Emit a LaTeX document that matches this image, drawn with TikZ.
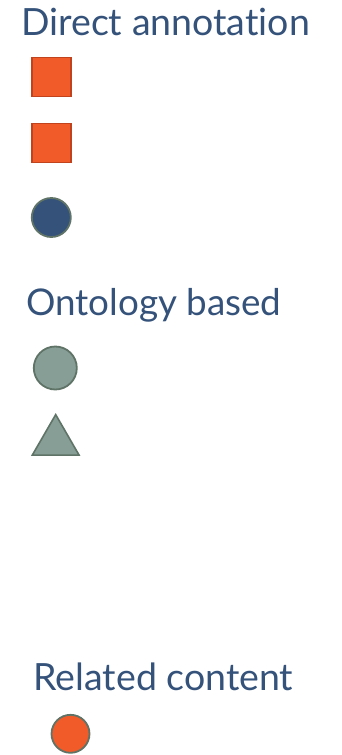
\documentclass[tikz,border=0pt]{standalone}
\usepackage{fontspec}
\setmainfont{Lato}[RawFeature={-liga;-dlig}]
\usetikzlibrary{shapes.geometric}
\definecolor{txtblue}{HTML}{34527A}
\definecolor{orangefill}{HTML}{F15A29}
\definecolor{orangeedge}{HTML}{C0431E}
\definecolor{darkblue}{HTML}{34527A}
\definecolor{grayedge}{HTML}{5F7367}
\definecolor{grayfill}{HTML}{869E96}
\tikzset{
  heading/.style={anchor=base west, inner sep=0pt, text=txtblue, font=\fontsize{37.5}{44}\selectfont},
  sqr/.style={draw=orangeedge, fill=orangefill, line width=1.6pt, minimum size=39pt, inner sep=0pt},
  dot/.style={circle, draw=grayedge, line width=1.8pt, inner sep=0pt},
  tri/.style={regular polygon, regular polygon sides=3, draw=grayedge, fill=grayfill, line width=1.6pt, inner sep=0pt, minimum size=54pt, anchor=north}
}
\begin{document}
\begin{tikzpicture}[x=1pt,y=1pt]
\useasboundingbox (0,0) rectangle (341,-755);
\node[heading] (h1) at (21,-35) {Direct annotation};
\node[sqr] (s1) at (51.2,-77) {};
\node[sqr] (s2) at (51.2,-142.8) {};
\node[dot, fill=darkblue, minimum size=39pt] (c1) at (51.3,-217.5) {};
\node[heading, font=\fontsize{36.8}{44}\selectfont] (h2) at (26,-315) {Ontology based};
\node[dot, fill=grayfill, minimum size=43pt] (c2) at (55.3,-368) {};
\node[tri] (t1) at (55.7,-413) {};
\node[heading] (h3) at (33.3,-690) {Related content};
\node[dot, fill=orangefill, minimum size=38pt] (c3) at (70.5,-733.8) {};
\end{tikzpicture}
\end{document}
